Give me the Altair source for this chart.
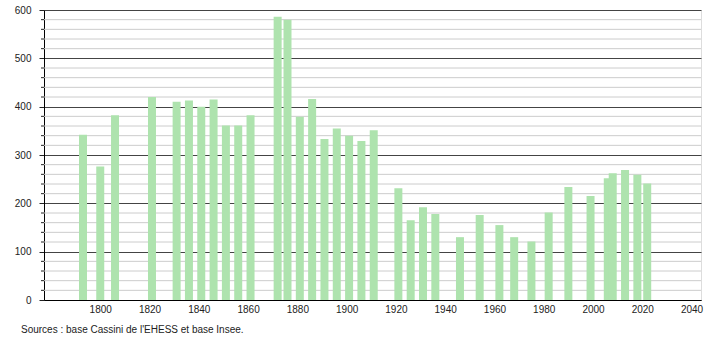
import altair as alt
import pandas as pd

years = [1793, 1800, 1806, 1821, 1831, 1836, 1841, 1846, 1851, 1856, 1861,
         1872, 1876, 1881, 1886, 1891, 1896, 1901, 1906, 1911,
         1921, 1926, 1931, 1936, 1946, 1954, 1962, 1968, 1975, 1982,
         1990, 1999, 2006, 2008, 2013, 2018, 2022]
population = [342, 276, 382, 420, 410, 413, 400, 415, 361, 361, 382,
              586, 580, 379, 416, 333, 355, 340, 329, 351,
              231, 165, 192, 178, 130, 176, 155, 130, 121, 181,
              234, 215, 252, 262, 269, 259, 241]
x_ticks = [1800, 1820, 1840, 1860, 1880, 1900, 1920, 1940, 1960, 1980, 2000, 2020, 2040]
y_ticks = [0, 100, 200, 300, 400, 500, 600]
y_minor = [v for v in range(20, 600, 20) if v % 100 != 0]
source = "Sources : base Cassini de l'EHESS et base Insee."

df = pd.DataFrame({"year": years, "pop": population})
minor_df = pd.DataFrame({"pop": y_minor})

xscale = alt.Scale(domain=[1779.2, 2041.8], nice=False, zero=False)
yscale = alt.Scale(domain=[0, 600], nice=False)
y_axis = alt.Axis(values=y_ticks, tickSize=5, tickColor="#222222",
                  domainColor="#000000", gridColor="#444444", grid=True,
                  labelPadding=8, labelFontSize=10, labelColor="#222222",
                  labelFont="Liberation Sans")
yenc = alt.Y("pop:Q", scale=yscale, title=None, axis=y_axis)

minor_grid = alt.Chart(minor_df).mark_rule(color="#cccccc", strokeWidth=1).encode(
    y=yenc, x=alt.value(0), x2=alt.value(657),
)
minor_ticks = alt.Chart(minor_df).mark_rule(color="#222222", strokeWidth=1).encode(
    y=yenc, x=alt.value(-3), x2=alt.value(0),
)

bars = alt.Chart(df).mark_bar(color="#aee3ae", size=8).encode(
    x=alt.X("year:Q", scale=xscale, title=None,
            axis=alt.Axis(values=x_ticks, format="d", ticks=False, grid=False,
                          labelPadding=4, domainColor="#000000", labelFontSize=10,
                          labelColor="#222222", labelFont="Liberation Sans")),
    y=yenc,
)

note = alt.Chart(pd.DataFrame({"t": [source]})).mark_text(
    align="left", baseline="middle", fontSize=10, font="Liberation Sans", color="#222222"
).encode(text="t:N", x=alt.value(-23), y=alt.value(319.5))

chart = alt.layer(minor_grid, bars, minor_ticks, note).properties(
    width=657, height=290,
    autosize=alt.AutoSizeParams(type="none"),
    padding={"left": 44, "top": 10, "right": 9, "bottom": 40},
).configure_view(stroke=None).configure(background="#ffffff")

chart.save("out.html", embed_options={"renderer": "svg", "actions": False})
